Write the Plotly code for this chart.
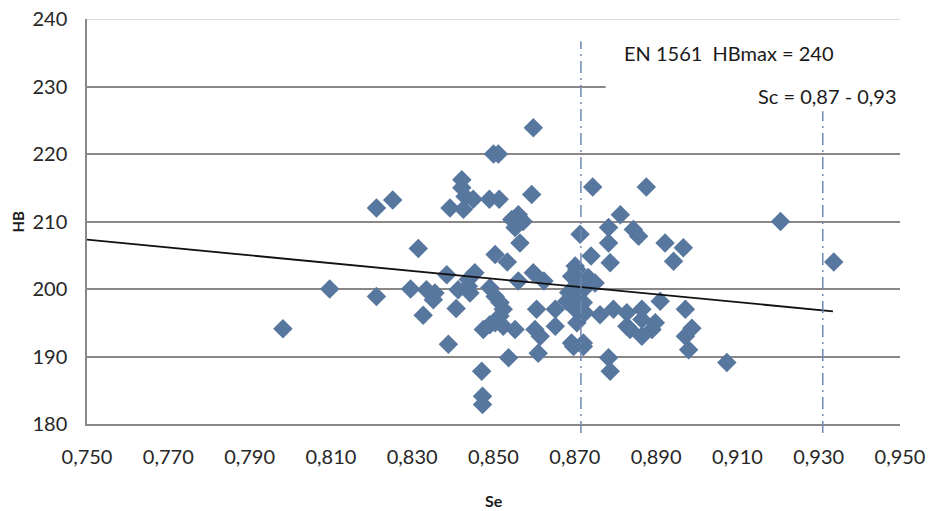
import plotly.graph_objects as go

# Scatter data: Se (x) and HB (y)
se = [
    0.7982, 0.8097, 0.8212, 0.8212, 0.8252, 0.8296, 0.8315, 0.8327, 0.8335, 0.8352,
    0.8356, 0.8385, 0.8389, 0.8393, 0.8408, 0.8413, 0.8422, 0.8422, 0.8426, 0.8430,
    0.8438, 0.8438, 0.8442, 0.8450, 0.8454, 0.8471, 0.8473, 0.8473, 0.8475, 0.8490,
    0.8491, 0.8491, 0.8500, 0.8504, 0.8504, 0.8504, 0.8512, 0.8514, 0.8516, 0.8516,
    0.8524, 0.8524, 0.8534, 0.8537, 0.8545, 0.8553, 0.8553, 0.8561, 0.8561, 0.8565,
    0.8573, 0.8594, 0.8598, 0.8598, 0.8602, 0.8606, 0.8610, 0.8615, 0.8624, 0.8652,
    0.8652, 0.8680, 0.8685, 0.8692, 0.8692, 0.8697, 0.8697, 0.8701, 0.8701, 0.8705,
    0.8705, 0.8713, 0.8715, 0.8721, 0.8721, 0.8721, 0.8721, 0.8725, 0.8733, 0.8740,
    0.8744, 0.8750, 0.8762, 0.8783, 0.8783, 0.8783, 0.8787, 0.8787, 0.8795, 0.8812,
    0.8828, 0.8828, 0.8836, 0.8844, 0.8857, 0.8865, 0.8865, 0.8865, 0.8876, 0.8890,
    0.8898, 0.8910, 0.8922, 0.8943, 0.8967, 0.8972, 0.8972, 0.8980, 0.8988, 0.9074,
    0.9206, 0.9337,
]
hb = [
    194.1, 200.0, 212.0, 198.9, 213.2, 200.0, 206.0, 196.1, 199.9, 198.4,
    199.4, 202.1, 191.8, 212.0, 197.1, 199.9, 216.2, 215.0, 211.8, 213.7,
    200.4, 201.4, 199.4, 213.3, 202.4, 187.8, 184.1, 182.9, 194.0, 213.3,
    200.2, 194.7, 220.0, 198.9, 205.1, 195.0, 220.0, 213.3, 198.0, 196.0,
    197.0, 194.5, 204.0, 189.8, 210.3, 209.1, 194.0, 211.0, 201.2, 206.8,
    210.0, 214.0, 223.9, 202.4, 194.0, 197.0, 190.5, 193.0, 201.2, 197.0,
    194.5, 198.2, 199.5, 201.9, 192.0, 198.9, 191.5, 203.4, 197.0, 202.9,
    195.0, 208.1, 200.5, 199.9, 198.0, 192.0, 191.5, 196.5, 201.7, 204.9,
    215.1, 200.9, 196.2, 209.1, 206.8, 189.8, 203.9, 187.8, 197.0, 211.0,
    196.5, 194.5, 194.0, 208.8, 207.8, 197.0, 195.5, 193.0, 215.1, 194.0,
    195.0, 198.2, 206.8, 204.1, 206.1, 197.0, 193.0, 191.0, 194.2, 189.1,
    210.0, 204.0,
]

# Linear trend line end points
trend_se = [0.750, 0.9335]
trend_hb = [207.3, 196.7]

# Sc limits (dash-dot reference lines)
sc_limits = [0.8715, 0.931]

x_ticks = [0.75, 0.77, 0.79, 0.81, 0.83, 0.85, 0.87, 0.89, 0.91, 0.93, 0.95]
y_ticks = [180, 190, 200, 210, 220, 230, 240]
y_max = 240

FONT = "Lato"
GRID = "#8c8787"
MARK = "#58779f"
DASH = "#6f88b3"

fig = go.Figure()
fig.add_trace(go.Scatter(
    x=se, y=hb, mode="markers",
    marker=dict(symbol="diamond", size=15, color=MARK, line=dict(width=0)),
    showlegend=False, hoverinfo="x+y",
))
fig.add_trace(go.Scatter(
    x=trend_se, y=trend_hb, mode="lines",
    line=dict(color="#111111", width=1.8),
    showlegend=False, hoverinfo="skip",
))

# top gridline (at the range edge, faint in the original)
fig.add_shape(type="line", xref="paper", yref="y", x0=0, x1=1, y0=y_max, y1=y_max,
              line=dict(color="#cfcbcb", width=1.5), layer="below")

# dash-dot lines
tops = [0.945, 0.772]
for xv, top in zip(sc_limits, tops):
    fig.add_shape(type="line", xref="x", yref="paper", x0=xv, x1=xv,
                  y0=-0.022, y1=top,
                  line=dict(color=DASH, width=1.5, dash="12px,5px,2px,5px"),
                  layer="above")

# white text box covering grid
fig.add_shape(type="rect", xref="paper", yref="paper", x0=0.638, x1=1.0,
              y0=0.775, y1=0.985, fillcolor="white", line=dict(width=0), layer="above")

fig.add_annotation(text="EN 1561  HBmax = 240", xref="paper", yref="paper",
                   x=0.658, y=0.915, xanchor="left", yanchor="middle", showarrow=False,
                   font=dict(family=FONT, size=20, color="#1a1a1a"))
fig.add_annotation(text="Sc = 0,87 - 0,93", xref="paper", yref="paper",
                   x=0.999, y=0.81, xanchor="right", yanchor="middle", showarrow=False,
                   font=dict(family=FONT, size=20, color="#1a1a1a"))

# axis titles
fig.add_annotation(text="<b>HB</b>", xref="paper", yref="paper", x=-0.086, y=0.5,
                   xanchor="center", yanchor="middle", textangle=-90, showarrow=False,
                   font=dict(family=FONT, size=15, color="#1a1a1a"))
fig.add_annotation(text="<b>Se</b>", xref="paper", yref="paper", x=0.5, y=-0.19,
                   xanchor="center", yanchor="middle", showarrow=False,
                   font=dict(family=FONT, size=16, color="#1a1a1a"))

fig.update_layout(
    width=932, height=511,
    margin=dict(l=87, r=32, t=19, b=87, autoexpand=False),
    paper_bgcolor="white", plot_bgcolor="white",
    separators=", ",
    font=dict(family=FONT, size=20, color="#262626"),
    xaxis=dict(range=[0.75, 0.95], tickvals=x_ticks, tickformat=".3f",
               showgrid=False, zeroline=False, showline=True, linecolor=GRID,
               linewidth=1.5, ticks="", ticklabelstandoff=14, automargin=False,
               tickfont=dict(family=FONT, size=20, color="#262626")),
    yaxis=dict(range=[180, 240], tickvals=y_ticks, showgrid=True, gridcolor=GRID,
               gridwidth=1.5, zeroline=False, showline=True, linecolor=GRID,
               linewidth=1.5, ticks="", ticklabelstandoff=14, automargin=False,
               tickfont=dict(family=FONT, size=20, color="#262626")),
)

# remove the default 8px body margin so the figure sits at the page's top-left corner
fig.write_html("out.html", config={"displayModeBar": False},
               post_script="document.body.style.margin='0';")
